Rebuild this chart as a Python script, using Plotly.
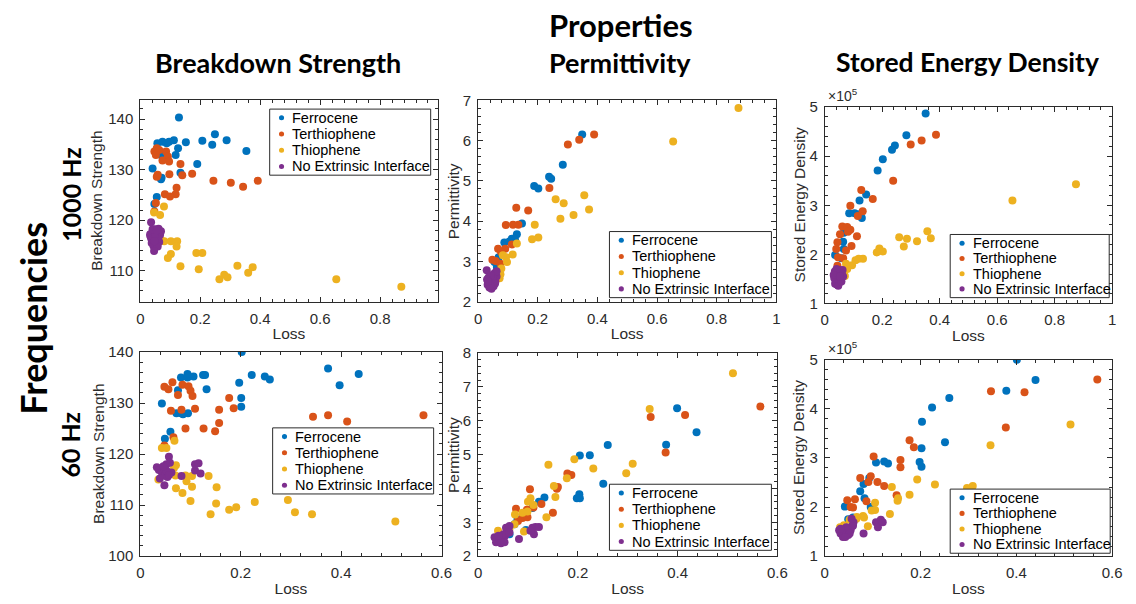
import plotly.graph_objects as go

W, H = 1136, 604

SERIES = ["Ferrocene", "Terthiophene", "Thiophene", "No Extrinsic Interface"]
COLORS = ["#0072BD", "#D95319", "#EDB120", "#7E2F8E"]

# ---------------- 1000 Hz : Breakdown Strength ----------------
bs1k_fer_loss = [0.057, 0.074, 0.088, 0.096, 0.112, 0.129, 0.126, 0.118, 0.071, 0.152, 0.207, 0.240,
                 0.249, 0.288, 0.354, 0.190, 0.134, 0.041, 0.069, 0.071, 0.055, 0.047]
bs1k_fer_val = [135.2, 135.5, 135.2, 135.5, 135.8, 140.3, 134.2, 132.9, 132.8, 135.4, 135.7, 134.9,
                137.0, 135.8, 133.7, 131.1, 129.4, 130.2, 128.1, 128.4, 124.6, 123.2]
bs1k_ter_loss = [0.047, 0.055, 0.063, 0.052, 0.086, 0.092, 0.074, 0.096, 0.134, 0.140, 0.173, 0.097,
                 0.058, 0.055, 0.121, 0.118, 0.082, 0.099, 0.244, 0.302, 0.343, 0.392, 0.052, 0.047]
bs1k_ter_val = [133.6, 134.2, 133.9, 132.9, 133.6, 132.6, 131.8, 131.6, 131.1, 128.9, 129.2, 129.1,
                129.0, 128.6, 126.4, 125.1, 125.1, 124.7, 127.8, 127.4, 126.6, 127.8, 123.4, 121.7]
bs1k_thi_loss = [0.046, 0.066, 0.079, 0.080, 0.102, 0.123, 0.121, 0.102, 0.092, 0.187, 0.207, 0.134,
                 0.195, 0.324, 0.375, 0.360, 0.280, 0.264, 0.291, 0.654, 0.871, 0.068]
bs1k_thi_val = [121.5, 121.0, 122.7, 115.8, 115.8, 115.8, 114.8, 113.3, 112.5, 113.5, 113.5, 110.9,
                110.3, 111.0, 110.7, 109.6, 109.2, 108.3, 108.7, 108.3, 106.8, 116.1]
bs1k_nei_loss = [0.033, 0.041, 0.050, 0.061, 0.069, 0.036, 0.044, 0.055, 0.066, 0.038, 0.052, 0.063,
                 0.044, 0.058, 0.033, 0.060, 0.049, 0.041, 0.036, 0.046, 0.055, 0.047]
bs1k_nei_val = [117.2, 117.6, 118.2, 118.3, 117.8, 116.4, 116.3, 116.8, 117.1, 115.5, 115.2, 115.7,
                114.9, 114.8, 116.9, 116.3, 117.1, 118.2, 119.6, 113.9, 118.0, 115.8]

# ---------------- 1000 Hz : Permittivity ----------------
pm1k_fer_loss = [0.349, 0.284, 0.238, 0.245, 0.188, 0.202, 0.147, 0.130, 0.113, 0.088, 0.124, 0.069,
                 0.063, 0.055, 0.105]
pm1k_fer_val = [6.15, 5.40, 5.10, 5.05, 4.87, 4.81, 3.94, 3.67, 3.56, 3.47, 3.53, 3.10, 2.86, 2.98, 3.49]
pm1k_ter_loss = [0.389, 0.339, 0.301, 0.239, 0.168, 0.128, 0.093, 0.117, 0.135, 0.113, 0.067, 0.091,
                 0.077, 0.048, 0.059, 0.075]
pm1k_ter_val = [6.15, 6.02, 5.90, 4.82, 4.26, 4.33, 3.90, 3.91, 3.91, 3.42, 3.31, 3.31, 3.23, 3.04,
                3.01, 2.94]
pm1k_thi_loss = [0.873, 0.654, 0.356, 0.372, 0.260, 0.287, 0.320, 0.276, 0.190, 0.202, 0.181, 0.130,
                 0.116, 0.094, 0.097, 0.078, 0.075, 0.072, 0.083]
pm1k_thi_val = [6.81, 5.98, 4.64, 4.29, 4.54, 4.44, 4.15, 4.06, 3.91, 3.59, 3.55, 3.44, 3.17, 3.10,
                2.98, 2.82, 2.68, 2.58, 3.15]
pm1k_nei_loss = [0.029, 0.035, 0.040, 0.046, 0.032, 0.038, 0.045, 0.052, 0.058, 0.062, 0.055, 0.062,
                 0.050, 0.043, 0.036, 0.030, 0.048, 0.057, 0.041, 0.033]
pm1k_nei_val = [2.78, 2.60, 2.52, 2.45, 2.42, 2.35, 2.32, 2.38, 2.50, 2.62, 2.70, 2.75, 2.58, 2.65,
                2.48, 2.55, 2.40, 2.45, 2.40, 2.50]

# ---------------- 1000 Hz : Stored Energy Density ----------------
sed1k_fer_loss = [0.351, 0.284, 0.244, 0.234, 0.202, 0.184, 0.144, 0.121, 0.085, 0.104, 0.119, 0.129,
                  0.066, 0.064, 0.066, 0.036, 0.058]
sed1k_fer_val = [4.87e5, 4.43e5, 4.22e5, 4.13e5, 3.94e5, 3.71e5, 3.22e5, 3.10e5, 2.84e5, 2.84e5,
                 2.82e5, 2.74e5, 2.44e5, 2.26e5, 2.11e5, 1.99e5, 1.92e5]
sed1k_ter_loss = [0.387, 0.337, 0.299, 0.238, 0.167, 0.127, 0.132, 0.115, 0.089, 0.061, 0.078, 0.089,
                  0.081, 0.112, 0.053, 0.044, 0.040, 0.093, 0.074, 0.046, 0.064, 0.044]
sed1k_ter_val = [4.44e5, 4.32e5, 4.24e5, 3.50e5, 3.13e5, 3.31e5, 2.88e5, 2.78e5, 2.99e5, 2.57e5,
                 2.56e5, 2.50e5, 2.46e5, 2.37e5, 2.41e5, 2.25e5, 2.11e5, 2.17e5, 2.08e5, 1.94e5,
                 1.92e5, 1.77e5]
sed1k_thi_loss = [0.874, 0.653, 0.357, 0.369, 0.259, 0.286, 0.321, 0.275, 0.190, 0.202, 0.181, 0.133,
                  0.118, 0.095, 0.074, 0.078, 0.070, 0.107]
sed1k_thi_val = [3.43e5, 3.10e5, 2.47e5, 2.33e5, 2.35e5, 2.32e5, 2.27e5, 2.16e5, 2.12e5, 2.06e5,
                 2.04e5, 1.91e5, 1.91e5, 1.78e5, 1.81e5, 1.70e5, 1.56e5, 1.88e5]
sed1k_nei_loss = [0.035, 0.040, 0.045, 0.050, 0.055, 0.060, 0.062, 0.038, 0.043, 0.048, 0.052, 0.057,
                  0.033, 0.041, 0.036, 0.047, 0.058, 0.064, 0.031, 0.053]
sed1k_nei_val = [1.65e5, 1.55e5, 1.48e5, 1.42e5, 1.50e5, 1.58e5, 1.68e5, 1.45e5, 1.38e5, 1.60e5,
                 1.68e5, 1.62e5, 1.52e5, 1.70e5, 1.40e5, 1.36e5, 1.45e5, 1.55e5, 1.58e5, 1.55e5]

# ---------------- 60 Hz : Breakdown Strength ----------------
bs60_fer_loss = [0.202, 0.374, 0.435, 0.397, 0.222, 0.248, 0.258, 0.197, 0.201, 0.201, 0.081, 0.094,
                 0.106, 0.125, 0.129, 0.094, 0.075, 0.132, 0.043, 0.072, 0.085, 0.095, 0.081, 0.060,
                 0.049]
bs60_fer_val = [140.0, 136.8, 135.7, 133.5, 135.5, 135.2, 134.6, 134.0, 131.0, 129.3, 135.0, 135.0,
                135.2, 135.5, 135.5, 135.7, 132.5, 132.7, 129.9, 128.0, 127.8, 128.0, 128.0, 124.4,
                123.0]
bs60_ter_loss = [0.048, 0.056, 0.064, 0.084, 0.096, 0.100, 0.104, 0.075, 0.177, 0.186, 0.157, 0.109,
                 0.082, 0.061, 0.157, 0.149, 0.126, 0.090, 0.066, 0.048, 0.344, 0.374, 0.412, 0.564]
bs60_ter_val = [133.2, 132.7, 134.1, 133.6, 133.3, 132.4, 131.4, 131.6, 131.0, 129.0, 128.7, 128.9,
                128.7, 128.5, 126.1, 124.5, 125.0, 125.0, 123.3, 121.7, 127.3, 127.6, 126.4, 127.6]
bs60_thi_loss = [0.043, 0.068, 0.071, 0.067, 0.070, 0.090, 0.092, 0.103, 0.103, 0.071, 0.084, 0.100,
                 0.136, 0.152, 0.151, 0.140, 0.177, 0.191, 0.228, 0.294, 0.308, 0.342, 0.508, 0.036,
                 0.052]
bs60_thi_val = [121.2, 122.6, 117.8, 117.3, 115.8, 115.8, 114.7, 115.7, 113.6, 113.3, 112.4, 110.8,
                115.7, 113.5, 110.3, 108.2, 109.1, 109.6, 110.6, 111.0, 108.6, 108.2, 106.8, 115.0,
                121.2]
bs60_nei_loss = [0.057, 0.033, 0.037, 0.043, 0.048, 0.052, 0.059, 0.049, 0.039, 0.048, 0.054, 0.062,
                 0.082, 0.109, 0.109, 0.116, 0.120, 0.052, 0.057, 0.046]
bs60_nei_val = [119.5, 117.4, 116.9, 116.4, 117.2, 118.0, 118.3, 115.8, 115.2, 113.9, 115.5, 116.4,
                115.7, 116.8, 118.0, 118.2, 116.2, 116.8, 115.9, 117.6]

# ---------------- 60 Hz : Permittivity ----------------
pm60_fer_loss = [0.399, 0.438, 0.377, 0.260, 0.224, 0.204, 0.251, 0.203, 0.198, 0.204, 0.133, 0.122,
                 0.109, 0.079, 0.073, 0.096, 0.063]
pm60_fer_val = [6.37, 5.66, 5.29, 5.28, 4.98, 4.97, 4.14, 3.83, 3.71, 3.71, 3.73, 3.61, 3.42, 3.08,
                2.94, 2.77, 2.65]
pm60_ter_loss = [0.566, 0.415, 0.346, 0.376, 0.179, 0.187, 0.160, 0.158, 0.104, 0.076, 0.127, 0.111,
                 0.150, 0.098, 0.089, 0.099, 0.080, 0.059]
pm60_ter_val = [6.42, 6.17, 6.11, 5.06, 4.44, 4.40, 4.04, 3.99, 3.98, 3.40, 3.54, 3.44, 3.28, 3.37,
                3.13, 3.15, 3.04, 2.73]
pm60_thi_loss = [0.511, 0.344, 0.310, 0.297, 0.231, 0.193, 0.141, 0.178, 0.152, 0.155, 0.137, 0.105,
                 0.100, 0.111, 0.099, 0.089, 0.074, 0.073, 0.092, 0.040, 0.063]
pm60_thi_val = [7.40, 6.35, 4.73, 4.45, 4.59, 4.86, 4.70, 4.30, 4.07, 3.75, 3.15, 3.71, 3.61, 3.51,
                3.32, 3.28, 3.23, 2.94, 2.73, 2.75, 2.82]
pm60_nei_loss = [0.033, 0.036, 0.043, 0.049, 0.054, 0.059, 0.056, 0.063, 0.046, 0.053, 0.082, 0.109,
                 0.115, 0.122, 0.112, 0.105, 0.051, 0.041, 0.063]
pm60_nei_val = [2.56, 2.41, 2.51, 2.46, 2.60, 2.75, 2.84, 2.89, 2.38, 2.41, 2.51, 2.84, 2.86, 2.86,
                2.65, 2.75, 2.65, 2.60, 2.70]

# ---------------- 60 Hz : Stored Energy Density ----------------
sed60_fer_loss = [0.401, 0.440, 0.379, 0.260, 0.224, 0.203, 0.251, 0.202, 0.198, 0.202, 0.124, 0.132,
                  0.107, 0.093, 0.081, 0.074, 0.083, 0.096, 0.042, 0.049, 0.059]
sed60_fer_val = [5.00e5, 4.59e5, 4.37e5, 4.22e5, 4.03e5, 3.74e5, 3.32e5, 3.20e5, 2.92e5, 2.82e5,
                 2.93e5, 2.89e5, 2.91e5, 2.59e5, 2.47e5, 2.32e5, 2.18e5, 2.00e5, 2.01e5, 1.75e5,
                 1.79e5]
sed60_ter_loss = [0.569, 0.417, 0.347, 0.378, 0.177, 0.186, 0.158, 0.158, 0.102, 0.096, 0.074, 0.091,
                  0.110, 0.124, 0.150, 0.063, 0.047, 0.087, 0.054, 0.059]
sed60_ter_val = [4.60e5, 4.34e5, 4.36e5, 3.62e5, 3.36e5, 3.22e5, 2.96e5, 2.81e5, 3.03e5, 2.63e5,
                 2.59e5, 2.51e5, 2.51e5, 2.43e5, 2.24e5, 2.16e5, 2.14e5, 2.12e5, 2.00e5, 1.99e5]
sed60_thi_loss = [0.513, 0.346, 0.309, 0.297, 0.230, 0.193, 0.177, 0.153, 0.152, 0.140, 0.105, 0.098,
                  0.105, 0.136, 0.080, 0.067, 0.066, 0.082, 0.090, 0.040, 0.052, 0.032]
sed60_thi_val = [3.68e5, 3.26e5, 2.43e5, 2.39e5, 2.46e5, 2.56e5, 2.25e5, 2.18e5, 2.13e5, 2.41e5,
                 2.09e5, 1.93e5, 1.94e5, 1.86e5, 1.82e5, 1.80e5, 1.76e5, 1.79e5, 1.61e5, 1.63e5,
                 1.74e5, 1.59e5]
sed60_nei_loss = [0.030, 0.033, 0.038, 0.043, 0.049, 0.054, 0.057, 0.060, 0.045, 0.036, 0.052, 0.059,
                  0.081, 0.107, 0.111, 0.117, 0.121, 0.043, 0.033, 0.056]
sed60_nei_val = [1.53e5, 1.46e5, 1.39e5, 1.47e5, 1.43e5, 1.53e5, 1.61e5, 1.69e5, 1.59e5, 1.49e5,
                 1.46e5, 1.62e5, 1.46e5, 1.69e5, 1.59e5, 1.74e5, 1.69e5, 1.39e5, 1.56e5, 1.76e5]

panels = [
    [(bs1k_fer_loss, bs1k_fer_val), (bs1k_ter_loss, bs1k_ter_val),
     (bs1k_thi_loss, bs1k_thi_val), (bs1k_nei_loss, bs1k_nei_val)],
    [(pm1k_fer_loss, pm1k_fer_val), (pm1k_ter_loss, pm1k_ter_val),
     (pm1k_thi_loss, pm1k_thi_val), (pm1k_nei_loss, pm1k_nei_val)],
    [(sed1k_fer_loss, sed1k_fer_val), (sed1k_ter_loss, sed1k_ter_val),
     (sed1k_thi_loss, sed1k_thi_val), (sed1k_nei_loss, sed1k_nei_val)],
    [(bs60_fer_loss, bs60_fer_val), (bs60_ter_loss, bs60_ter_val),
     (bs60_thi_loss, bs60_thi_val), (bs60_nei_loss, bs60_nei_val)],
    [(pm60_fer_loss, pm60_fer_val), (pm60_ter_loss, pm60_ter_val),
     (pm60_thi_loss, pm60_thi_val), (pm60_nei_loss, pm60_nei_val)],
    [(sed60_fer_loss, sed60_fer_val), (sed60_ter_loss, sed60_ter_val),
     (sed60_thi_loss, sed60_thi_val), (sed60_nei_loss, sed60_nei_val)],
]

# axis boxes in pixels: (left, right, top, bottom)
boxes = [
    (138, 439, 94, 301), (480, 782, 94, 301), (831, 1122, 101, 303),
    (138, 443, 353, 563), (480, 783, 354, 563), (831, 1122, 361, 563),
]
x_ranges = [[0, 0.992], [0, 1], [0, 1], [0, 0.6], [0, 0.6], [0, 0.6]]
y_ranges = [[103.9, 143.7], [2, 7], [1e5, 5e5], [100, 140], [2, 8], [1e5, 5e5]]
y_titles = ["Breakdown Strength", "Permittivity", "Stored Energy Density"] * 2
y_title_x = [94, 456, 805, 95, 455, 805]
y_dticks = [10, 1, 1e5, 10, 1, 1e5]
# legend boxes in pixels: (left, top, right, bottom)
legend_boxes = [(269, 103, 432, 171), (613, 229, 777, 297), (958, 232, 1119, 297),
                (272, 431, 435, 499), (613, 489, 777, 557), (958, 494, 1120, 560)]

AX_COLOR = "#2b2b2b"
SANS = "Liberation Sans, Arial, sans-serif"
TICK_FONT = dict(family=SANS, size=15, color=AX_COLOR)
TITLE_FONT = dict(family=SANS, size=15.5, color=AX_COLOR)
HEAD_FONT = "Lato, Calibri, sans-serif"


def px_x(v):
    return v / W


def px_y(v):
    return 1 - v / H


fig = go.Figure()
layout = dict(
    width=W, height=H, margin=dict(l=0, r=0, t=0, b=0),
    paper_bgcolor="white", plot_bgcolor="white", showlegend=False,
)
shapes = []
annotations = []

for i, (panel, box) in enumerate(zip(panels, boxes)):
    n = "" if i == 0 else str(i + 1)
    for (xs, ys), name, col in zip(panel, SERIES, COLORS):
        fig.add_trace(go.Scatter(
            x=xs, y=ys, mode="markers", name=name,
            marker=dict(size=8, color=col, line=dict(width=0)),
            xaxis="x" + n, yaxis="y" + n,
        ))
    l, r, t, b = box
    minor_common = dict(ticks="inside", ticklen=3, tickcolor=AX_COLOR, showgrid=False)
    layout["xaxis" + n] = dict(
        domain=[px_x(l), px_x(r)], range=x_ranges[i], anchor="y" + n,
        showline=True, linecolor=AX_COLOR, linewidth=1, mirror="ticks",
        ticks="inside", ticklen=5, tickcolor=AX_COLOR, dtick=0.2, tick0=0,
        minor=dict(dtick=0.04, **minor_common), ticklabelstandoff=3,
        showgrid=False, zeroline=False, tickfont=TICK_FONT,
        title=dict(text="Loss", font=TITLE_FONT, standoff=2),
    )
    ydt = y_dticks[i]
    yax = dict(
        domain=[px_y(b), px_y(t)], range=y_ranges[i], anchor="x" + n,
        showline=True, linecolor=AX_COLOR, linewidth=1, mirror="ticks",
        ticks="inside", ticklen=5, tickcolor=AX_COLOR, ticklabelstandoff=3,
        minor=dict(dtick=ydt / 5, **minor_common),
        showgrid=False, zeroline=False, tickfont=TICK_FONT,
    )
    if ydt == 1e5:
        vals = [k * 1e5 for k in range(1, 6)]
        yax.update(tickvals=vals, ticktext=[str(k) for k in range(1, 6)])
    else:
        yax.update(dtick=ydt, tick0=0)
    layout["yaxis" + n] = yax

    # y-axis title, centred on the axis box
    annotations.append(dict(
        text=y_titles[i], x=px_x(y_title_x[i]), y=px_y((t + b) / 2),
        xref="paper", yref="paper", xanchor="center", yanchor="middle",
        showarrow=False, textangle=-90, font=TITLE_FONT,
    ))

    # legend: framed box with a dot and a label per series
    bl, bt, br, bb = legend_boxes[i]
    shapes.append(dict(
        type="rect", xref="paper", yref="paper",
        x0=px_x(bl), x1=px_x(br), y0=px_y(bb), y1=px_y(bt),
        line=dict(color=AX_COLOR, width=1), fillcolor="white", layer="above",
    ))
    step = (bb - bt - 18) / 3
    for k, (name, col) in enumerate(zip(SERIES, COLORS)):
        cy = bt + 9 + k * step
        cx = bl + 12
        shapes.append(dict(
            type="circle", xref="paper", yref="paper",
            x0=px_x(cx - 2.6), x1=px_x(cx + 2.6), y0=px_y(cy + 2.6), y1=px_y(cy - 2.6),
            line=dict(width=0), fillcolor=col, layer="above",
        ))
        annotations.append(dict(
            text=name, x=px_x(bl + 21), y=px_y(cy), xref="paper", yref="paper",
            xanchor="left", yanchor="middle", showarrow=False,
            font=dict(family=SANS, size=14.5, color="#000000"),
        ))

# x10^5 exponent labels
for i in (2, 5):
    l, r, t, b = boxes[i]
    annotations.append(dict(
        text="\u00d710<sup>5</sup>", x=px_x(l + 1), y=px_y(t - 1), xref="paper", yref="paper",
        xanchor="left", yanchor="bottom", showarrow=False,
        font=dict(family=SANS, size=14, color=AX_COLOR),
    ))

heads = [
    ("Properties", 625, 16, 31, 0),
    ("Breakdown Strength", 277, 55, 27, 0),
    ("Permittivity", 624, 55, 27, 0),
    ("Stored Energy Density", 976, 55, 26.5, 0),
    ("Frequencies", 29, 318, 36, -90),
    ("1000 Hz", 67, 191, 25, -90),
    ("60 Hz", 67, 448, 25, -90),
]
for text, hx, hy, size, ang in heads:
    annotations.append(dict(
        text="<b>" + text + "</b>", x=px_x(hx), y=px_y(hy), xref="paper", yref="paper",
        xanchor="center", yanchor="middle", showarrow=False, textangle=ang,
        font=dict(family=HEAD_FONT, size=size, color="#000000"),
    ))

layout["shapes"] = shapes
layout["annotations"] = annotations
fig.update_layout(**layout)
fig.write_html("out.html")
